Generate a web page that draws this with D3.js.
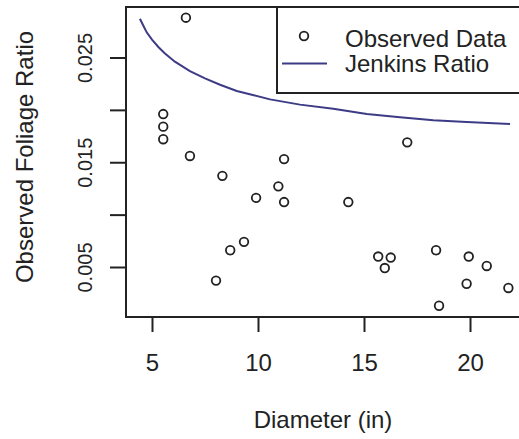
<!DOCTYPE html>
<html>
<head>
<meta charset="utf-8">
<script src="https://cdn.jsdelivr.net/npm/d3@7"></script>
<style>
  body { margin: 0; background: #fff; }
  text { font-family: "Liberation Sans", Arial, sans-serif; fill: #222; }
</style>
</head>
<body>
<div id="chart"></div>
<script>
// observed points
var diameter = [6.60, 5.53, 5.53, 5.53, 6.79, 11.23, 8.32, 10.96, 9.91, 11.23, 9.34, 8.69,
                8.02, 14.26, 17.04, 15.67, 16.26, 15.98, 18.40, 19.94, 20.79, 19.84, 21.81, 18.54];
var foliageRatio = [0.0288, 0.0196, 0.0184, 0.0172, 0.0156, 0.0153, 0.0137, 0.0127, 0.0116, 0.0112, 0.0074, 0.0066,
                    0.0037, 0.0112, 0.0169, 0.0060, 0.0059, 0.0049, 0.0066, 0.0060, 0.0051, 0.0034, 0.0030, 0.0013];

// Jenkins ratio curve
var jenkinsD = [4.43, 4.6, 4.75, 5.0, 5.3, 5.6, 6.08, 6.79, 7.5, 8.21, 9.0, 9.8, 10.57, 11.98, 13.55, 15.13, 16.70, 18.27, 19.84, 21.89];
var jenkinsR = [0.0287, 0.0280, 0.0274, 0.0267, 0.0260, 0.0254, 0.0246, 0.0237, 0.0230, 0.0224, 0.0218, 0.0214, 0.0210,
                0.0205, 0.0201, 0.0196, 0.0193, 0.0190, 0.01885, 0.01866];

var xTicks = [5, 10, 15, 20];
var yTicks = [0.005, 0.010, 0.015, 0.020, 0.025];
var yLabelled = [0.005, 0.015, 0.025];
var legendLabels = ["Observed Data", "Jenkins Ratio"];

var W = 519, H = 439;
var plot = { left: 126, right: 520, top: 7, bottom: 317 };
var lineColor = "#3d3b85";

var svg = d3.select("#chart")
    .append("svg")
    .attr("width", W)
    .attr("height", H);

svg.append("rect").attr("width", W).attr("height", H).attr("fill", "#fff");

var x = d3.scaleLinear()
    .domain([3.774, 22.358])
    .range([plot.left, plot.right]);

var y = d3.scaleLinear()
    .domain([0.000227, 0.02982])
    .range([plot.bottom, plot.top]);

// x axis
var xAxis = svg.append("g")
    .attr("transform", "translate(0," + plot.bottom + ")")
    .call(d3.axisBottom(x).tickValues(xTicks).tickSize(15).tickPadding(22).tickFormat(d3.format("d")));
xAxis.select(".domain").remove();
xAxis.selectAll("line").attr("stroke", "#222").attr("stroke-width", 2);
xAxis.selectAll("text").style("font-size", "24px");

// y axis, only every other tick gets a label
var yAxis = svg.append("g")
    .attr("transform", "translate(" + plot.left + ",0)")
    .call(d3.axisLeft(y).tickValues(yTicks).tickSize(16)
        .tickFormat(function(d) {
            return yLabelled.some(function(v) { return Math.abs(v - d) < 1e-9; }) ? d3.format(".3f")(d) : "";
        }));
yAxis.select(".domain").remove();
yAxis.selectAll("line").attr("stroke", "#222").attr("stroke-width", 2);
yAxis.selectAll("text")
    .attr("x", null)
    .attr("text-anchor", "middle")
    .attr("transform", "translate(-41,0) rotate(-90)")
    .attr("dy", "0.35em")
    .style("font-size", "20px");

// box
svg.append("rect")
    .attr("x", plot.left)
    .attr("y", plot.top)
    .attr("width", plot.right - plot.left)
    .attr("height", plot.bottom - plot.top)
    .attr("fill", "none")
    .attr("stroke", "#222")
    .attr("stroke-width", 2);

// axis titles
svg.append("text")
    .attr("x", (plot.left + plot.right) / 2)
    .attr("y", 428)
    .attr("text-anchor", "middle")
    .style("font-size", "24px")
    .text("Diameter (in)");

svg.append("text")
    .attr("transform", "translate(33,157) rotate(-90)")
    .attr("text-anchor", "middle")
    .style("font-size", "24px")
    .text("Observed Foliage Ratio");

// Jenkins curve
var line = d3.line()
    .x(function(d, i) { return x(jenkinsD[i]); })
    .y(function(d, i) { return y(jenkinsR[i]); });

svg.append("path")
    .attr("d", line(jenkinsD))
    .attr("fill", "none")
    .attr("stroke", lineColor)
    .attr("stroke-width", 2);

// observed points
svg.selectAll("circle.obs")
    .data(diameter)
    .enter()
    .append("circle")
    .attr("class", "obs")
    .attr("cx", function(d) { return x(d); })
    .attr("cy", function(d, i) { return y(foliageRatio[i]); })
    .attr("r", 4.3)
    .attr("fill", "none")
    .attr("stroke", "#222")
    .attr("stroke-width", 1.8);

// legend
var lg = svg.append("g");
lg.append("rect")
    .attr("x", 277)
    .attr("y", plot.top)
    .attr("width", 260)
    .attr("height", 86)
    .attr("fill", "#fff")
    .attr("stroke", "#222")
    .attr("stroke-width", 2);
lg.append("circle")
    .attr("cx", 304).attr("cy", 36).attr("r", 4.3)
    .attr("fill", "none").attr("stroke", "#222").attr("stroke-width", 1.8);
lg.append("line")
    .attr("x1", 282).attr("x2", 327).attr("y1", 63.5).attr("y2", 63.5)
    .attr("stroke", lineColor).attr("stroke-width", 2);
lg.selectAll("text.leg")
    .data(legendLabels)
    .enter()
    .append("text")
    .attr("class", "leg")
    .attr("x", 345)
    .attr("y", function(d, i) { return 47 + i * 25; })
    .style("font-size", "24px")
    .text(function(d) { return d; });
</script>
</body>
</html>
